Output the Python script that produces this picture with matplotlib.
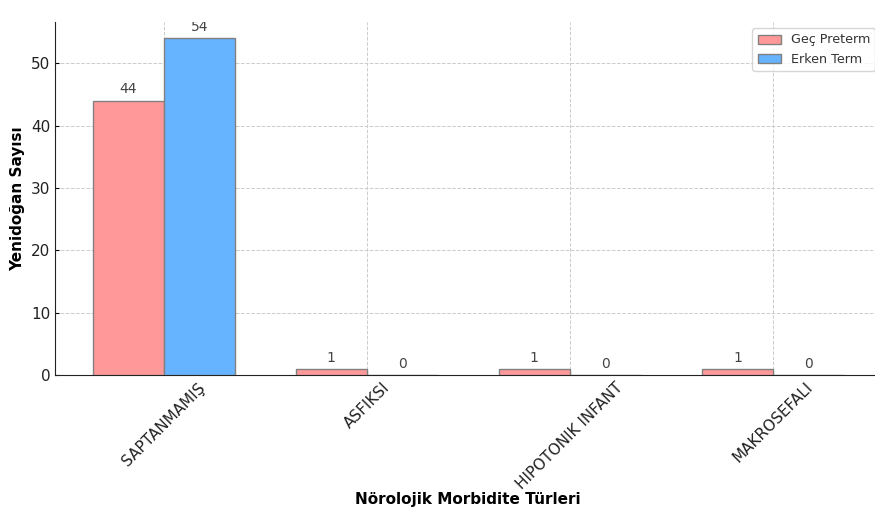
import matplotlib
matplotlib.use("Agg")
import matplotlib.pyplot as plt
import numpy as np

categories = ["SAPTANMAMIŞ", "ASFIKSI", "HIPOTONIK INFANT", "MAKROSEFALI"]
gec_preterm = [44, 1, 1, 1]
erken_term = [54, 0, 0, 0]
series_names = ["Geç Preterm", "Erken Term"]
colors = ["#FF9999", "#66B3FF"]

W, H = 875, 515
fig = plt.figure(figsize=(W / 100, H / 100), dpi=100)
# axes extends slightly past the right edge of the canvas
ax = fig.add_axes([55 / W, 140 / H, (881.6 - 55) / W, (375 - 22) / H])

x = np.arange(len(categories))
width = 0.35
bars1 = ax.bar(x - width / 2, gec_preterm, width, label=series_names[0],
               color=colors[0], edgecolor="grey", linewidth=1, zorder=3)
bars2 = ax.bar(x + width / 2, erken_term, width, label=series_names[1],
               color=colors[1], edgecolor="grey", linewidth=1, zorder=3)

for bars in (bars1, bars2):
    for b in bars:
        h = b.get_height()
        ax.annotate(f"{int(h)}", xy=(b.get_x() + b.get_width() / 2, h),
                    xytext=(0, 3), textcoords="offset points",
                    ha="center", va="bottom", fontsize=10, color="#444444",
                    annotation_clip=False, clip_on=True)

ax.set_xticks(x)
ax.set_xticklabels(categories, rotation=45, ha="center", fontsize=11, color="#222222")
ax.tick_params(axis="both", direction="in", length=3, width=0.8)
ax.tick_params(axis="y", labelsize=11, labelcolor="#222222")
ax.set_xlim(-0.535, 3.535)
ax.set_ylim(0, 56.6)
ax.set_yticks([0, 10, 20, 30, 40, 50])

ax.set_xlabel("Nörolojik Morbidite Türleri", fontsize=11, fontweight="bold", labelpad=0)
ax.set_ylabel("Yenidoğan Sayısı", fontsize=11, fontweight="bold")

ax.grid(True, linestyle="--", color="#cccccc", linewidth=0.7, zorder=0)
ax.set_axisbelow(True)
for s in ("top", "right"):
    ax.spines[s].set_visible(False)
for s in ("left", "bottom"):
    ax.spines[s].set_color("#222222")

leg = ax.legend(loc="upper right", fontsize=9.2, frameon=True, handlelength=1.8)
for t in leg.get_texts():
    t.set_color("#333333")

fig.savefig("out.png", dpi=100)
